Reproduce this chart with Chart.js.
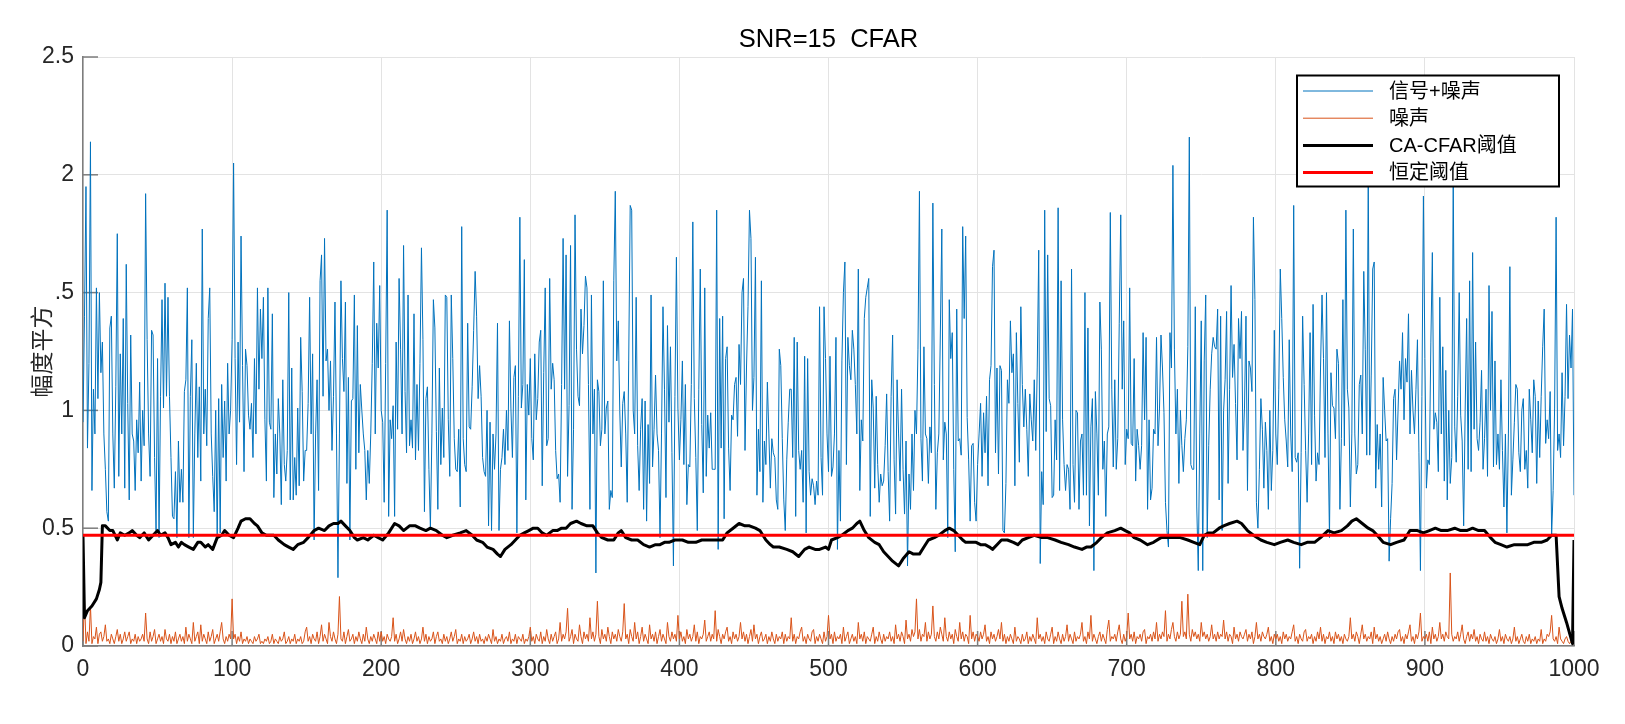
<!DOCTYPE html>
<html><head><meta charset="utf-8">
<script src="https://cdn.jsdelivr.net/npm/chart.js@4.4.1/dist/chart.umd.min.js"></script>
<style>html,body{margin:0;padding:0;background:#fff;}canvas{display:block;}</style>
</head><body>
<canvas id="c" width="1625" height="724"></canvas>
<script>
const titleText = 'SNR=15  CFAR';
const yLabel = '幅度平方';
const seriesNames = ['信号+噪声', '噪声', 'CA-CFAR阈值', '恒定阈值'];
const xTickValues = [0, 100, 200, 300, 400, 500, 600, 700, 800, 900, 1000];
const yTickValues = [0, 0.5, 1, 1.5, 2, 2.5];
const yTickLabels = ['0', '0.5', '1', '.5', '2', '2.5'];

// 信号+噪声, index 0..1000
const signal = [
0.95,1.4,1.95,0.84,1.2,2.14,0.66,1.09,0.9,1.52,
1.05,1.5,1.16,1.29,0.9,0.75,0.57,0.53,1.35,1.4,
0.9,0.67,1.1,1.75,0.72,1.24,0.9,1.39,0.67,1.62,
1.03,0.62,1.32,0.9,0.87,0.66,0.96,0.82,1.12,0.7,
1.0,0.85,1.92,1.3,0.9,0.72,1.34,1.32,0.8,0.49,
1.22,0.46,1.06,1.47,1.01,1.54,1.06,1.48,1.06,0.8,
0.55,0.54,0.74,0.46,0.87,0.61,0.75,0.61,1.08,1.13,
1.52,0.46,1.06,1.3,0.46,0.9,1.2,0.8,1.1,0.7,
1.77,0.9,1.09,0.85,1.39,1.52,0.9,0.72,0.57,1.0,
0.46,1.05,0.48,1.11,0.8,1.04,0.7,1.2,0.9,1.0,
1.3,2.05,1.22,0.77,1.29,0.95,1.74,1.19,0.74,1.26,
1.19,0.98,0.92,1.03,0.8,1.22,0.9,1.52,1.09,1.43,
1.22,
1.48,0.96,0.7,1.52,0.95,0.92,1.41,0.63,0.9,0.73,
1.05,0.9,0.6,1.13,0.77,0.7,0.83,1.5,0.62,1.18,
0.62,0.8,0.64,1.01,0.68,1.31,1.08,0.7,0.83,0.83,
1.03,1.48,0.9,1.24,0.45,0.9,1.13,0.66,1.55,1.66,
1.06,1.73,1.21,1.26,1.0,1.21,0.83,1.06,1.46,0.9,
0.29,0.9,1.55,1.22,1.08,1.46,0.69,1.14,0.45,1.04,
1.05,1.49,0.75,1.36,0.82,1.11,1.0,0.9,0.83,0.62,
0.83,0.69,0.9,1.2,1.63,0.9,1.37,1.18,1.53,1.0,
0.95,0.61,1.2,1.85,0.55,0.96,0.88,1.02,0.55,1.29,
0.92,1.56,1.26,0.9,1.7,1.08,0.82,1.49,0.85,0.96,
0.84,1.41,0.79,1.11,0.83,1.2,1.69,1.3,0.57,1.05,
1.1,0.75,0.5,0.9,1.47,1.35,0.91,0.58,1.18,0.77,
1.01,0.8,1.49,1.48,0.96,
0.72,1.49,1.22,0.88,0.75,0.74,0.92,0.59,1.78,0.88,
0.77,0.74,1.37,0.93,0.92,1.1,1.34,1.59,1.4,1.05,
1.19,1.06,0.8,0.74,0.72,1.0,0.51,0.95,0.49,0.9,
0.75,0.9,1.37,0.49,0.75,0.8,0.92,0.77,1.0,0.83,
1.38,1.01,0.8,1.14,1.19,0.48,1.06,1.82,1.01,1.11,
1.64,0.62,1.11,0.98,1.22,0.88,0.79,1.24,0.96,1.05,
1.29,1.34,0.68,1.16,1.52,0.85,0.88,1.56,1.09,1.2,
1.13,0.83,0.71,0.73,0.61,1.11,1.73,1.09,1.66,0.72,
1.02,1.7,0.58,0.92,1.83,1.26,1.06,1.02,1.43,1.24,
1.36,1.57,1.52,1.11,0.58,1.49,0.9,1.09,0.31,1.13,
1.08,0.85,0.92,1.55,0.9,1.01,1.04,0.58,0.66,0.63,
1.55,1.93,1.21,1.38,1.0,0.76,1.03,1.08,0.9,0.61,
1.21,1.87,1.85,1.0,0.9,
1.48,0.85,0.66,0.92,1.05,0.58,1.04,0.53,0.94,0.69,
1.49,0.76,0.92,1.15,0.9,0.83,0.46,0.9,1.44,1.09,
0.63,1.36,0.95,1.27,0.82,0.34,1.06,1.65,1.01,0.79,
0.96,1.21,0.77,1.11,0.6,0.77,0.76,1.11,1.8,1.05,
0.8,0.49,1.09,1.6,0.94,0.65,1.52,0.72,0.98,0.84,
0.99,0.75,0.75,0.75,1.85,0.41,1.39,0.84,1.4,0.54,
1.22,1.27,0.84,0.66,0.98,0.96,1.11,1.14,0.89,1.28,
1.11,1.5,1.56,0.83,1.18,1.44,1.85,1.73,1.0,1.14,
1.65,0.64,0.92,0.74,1.55,0.61,0.87,0.77,1.12,0.9,
0.67,0.88,0.82,0.8,0.62,0.58,1.26,1.19,0.88,0.62,
0.49,0.79,0.95,1.09,1.09,0.8,1.31,0.55,1.29,0.83,
0.75,0.83,0.61,1.23,0.48,1.22,0.74,0.64,0.71,0.68,
0.6,0.7,0.64,1.44,0.8,
0.64,1.44,1.22,0.9,0.74,1.23,0.72,0.76,0.9,1.31,
0.41,0.83,0.53,1.21,1.5,1.63,0.77,1.31,1.19,1.13,
1.34,1.26,1.11,0.9,1.6,0.66,0.96,0.87,1.39,1.48,
1.52,1.56,0.55,1.13,1.01,0.67,1.06,0.77,0.61,0.73,
0.68,0.7,0.85,1.07,0.74,0.53,1.06,1.32,0.79,0.56,
1.13,0.9,0.7,1.09,0.75,0.56,0.87,0.34,0.73,0.58,
0.9,0.66,1.0,0.9,1.26,1.93,0.88,0.7,1.27,0.9,
0.88,0.69,0.93,0.82,1.88,1.11,0.58,0.82,0.9,1.32,
1.77,0.79,0.95,0.9,0.46,1.47,1.22,1.33,0.75,0.4,
1.43,0.87,0.88,0.81,1.78,1.39,1.74,0.97,0.79,0.53,
0.85,0.86,0.61,0.53,0.77,0.9,1.03,0.72,0.99,0.82,
1.06,0.68,1.13,1.19,1.61,1.68,0.82,1.18,0.73,1.19,
1.17,0.49,0.48,0.69,
1.13,1.03,1.38,1.16,1.24,0.68,1.33,1.03,0.78,1.44,
1.11,0.93,1.09,0.92,0.72,1.07,0.96,0.87,1.13,0.83,
1.18,1.68,0.35,0.74,0.6,1.85,0.91,1.66,1.05,1.02,
0.63,0.64,0.96,0.79,1.86,0.66,1.55,0.96,0.77,0.66,
0.77,0.75,0.58,1.6,0.77,0.61,1.0,0.99,0.58,0.87,
0.9,0.64,1.5,0.64,1.35,0.51,0.93,1.05,0.32,1.08,
0.9,0.64,1.46,1.26,0.75,0.87,0.55,0.9,0.93,1.84,
1.09,0.76,1.13,0.75,0.88,1.37,1.83,1.09,1.38,0.77,
0.92,0.88,1.52,0.86,0.85,1.22,0.7,0.92,0.85,0.75,
0.85,1.33,0.96,1.31,0.58,0.96,0.62,0.67,0.92,0.9,
1.31,0.85,1.01,1.32,1.18,0.99,0.61,0.49,0.42,1.33,
1.18,2.04,1.26,0.9,1.09,0.69,1.0,0.85,0.74,0.88,
0.96,1.27,2.16,0.77,0.75,
0.75,1.44,0.59,0.32,0.9,1.38,0.32,1.21,1.49,0.46,
0.85,1.09,1.24,1.31,1.27,1.26,1.43,0.62,1.4,0.49,
1.0,1.13,1.42,0.69,1.09,1.53,1.14,1.28,1.03,0.79,
1.39,1.22,1.42,0.83,1.01,1.4,0.66,1.21,1.18,1.08,
1.82,1.47,0.61,0.5,0.75,1.05,0.92,0.67,0.95,0.83,
0.58,1.0,0.66,0.83,1.34,0.9,0.77,1.09,1.6,1.39,
1.14,0.96,0.87,0.76,1.3,0.9,0.74,1.87,0.8,0.78,
0.82,0.33,0.82,1.4,1.11,0.83,0.61,0.9,1.33,0.77,
1.45,0.98,0.7,0.82,0.77,1.18,1.49,1.22,0.8,1.5,
0.9,0.46,1.16,1.02,1.01,0.88,1.26,1.2,0.58,0.88,
1.47,0.85,1.85,1.09,1.01,0.59,0.9,1.77,0.9,0.73,
0.77,1.11,1.15,0.9,1.59,1.26,0.81,2.0,0.81,1.15,
1.6,1.63,0.67,0.94,0.75,
0.9,0.59,1.14,1.0,0.87,0.88,0.36,0.54,0.69,1.05,
1.09,0.79,1.0,1.21,1.09,1.33,0.96,1.22,1.12,1.41,
0.9,1.17,1.0,0.9,1.09,1.3,0.82,0.32,1.06,1.91,
1.22,0.67,0.79,0.77,1.29,1.67,0.92,0.99,0.95,0.74,
1.48,0.9,1.27,0.7,1.17,0.62,1.0,0.69,0.8,2.0,
0.93,0.78,1.06,1.5,0.98,0.87,0.51,1.0,1.39,0.75,
1.55,0.74,1.67,0.92,1.29,0.88,0.83,0.95,1.17,0.75,
0.88,1.09,0.72,1.53,1.0,1.42,0.76,1.21,0.77,0.9,
0.75,1.13,0.83,0.59,0.9,0.48,0.9,1.61,0.64,0.79,
0.95,1.11,1.09,0.82,0.74,1.0,1.05,0.75,0.83,0.67,
1.09,0.96,0.82,1.13,1.06,0.69,1.04,0.8,1.06,1.27,
1.43,0.86,0.96,0.88,1.08,0.47,0.66,1.01,1.82,0.83,
0.9,0.8,1.16,0.85,1.06,1.45,1.05,1.32,1.18,1.43,
0.64
];

// 噪声, index 0..1000
const noise = [
.02,.2,.01,.06,.02,.17,.01,.04,.03,.08,.01,.05,.06,.02,.04,.09,.02,.03,.01,.05,
.03,.01,.04,.07,.02,.05,.01,.03,.06,.02,.04,.06,.01,.03,.02,.05,.01,.04,.02,.03,
.05,.02,.14,.03,.01,.06,.02,.04,.07,.01,.03,.05,.02,.04,.01,.07,.03,.02,.05,.01,
.04,.02,.06,.01,.03,.05,.02,.04,.01,.08,.02,.05,.03,.01,.1,.02,.04,.06,.01,.09,
.02,.05,.03,.01,.06,.02,.04,.07,.01,.03,.05,.02,.06,.1,.03,.01,.04,.02,.05,.03,
.2,.03,.05,.01,.04,.02,.06,.01,.03,.02,.04,.01,.03,.02,.01,.04,.02,.03,.05,.01,
.02,.01,.03,.02,.04,.01,.02,.05,.01,.03,.02,.01,.04,.02,.03,.06,.01,.02,.04,.01,
.03,.02,.05,.01,.03,.02,.04,.01,.02,.06,.08,.02,.04,.01,.05,.03,.02,.06,.01,.04,
.09,.02,.05,.03,.01,.1,.04,.02,.06,.03,.01,.05,.21,.03,.02,.06,.01,.04,.07,.02,
.03,.05,.01,.04,.02,.06,.03,.01,.05,.02,.08,.03,.01,.04,.02,.05,.03,.01,.06,.02,
.06,.02,.04,.01,.05,.03,.02,.04,.12,.02,.05,.01,.03,.06,.02,.07,.03,.01,.04,.02,
.05,.01,.03,.06,.02,.04,.01,.03,.08,.02,.05,.01,.04,.02,.03,.06,.01,.04,.06,.02,
.03,.01,.05,.02,.04,.01,.03,.06,.02,.04,.07,.01,.03,.02,.05,.01,.04,.02,.03,.05,
.01,.03,.06,.02,.04,.01,.05,.02,.03,.01,.04,.02,.05,.03,.01,.07,.02,.04,.01,.03,
.02,.05,.01,.03,.04,.02,.06,.01,.03,.02,.05,.01,.04,.03,.02,.05,.01,.03,.02,.04,
.08,.02,.04,.01,.05,.03,.02,.06,.01,.04,.02,.07,.03,.01,.05,.02,.04,.06,.01,.03,
.1,.02,.05,.03,.06,.16,.02,.04,.07,.01,.05,.03,.02,.09,.04,.01,.06,.03,.05,.02,
.12,.03,.06,.02,.05,.19,.04,.01,.07,.03,.05,.02,.08,.04,.01,.06,.03,.05,.02,.07,
.04,.02,.06,.18,.03,.05,.01,.07,.04,.02,.1,.03,.06,.01,.04,.08,.02,.05,.03,.01,
.09,.03,.05,.02,.06,.01,.04,.07,.02,.05,.03,.01,.1,.04,.02,.06,.03,.05,.02,.13,
.03,.06,.02,.04,.01,.07,.03,.05,.02,.04,.09,.02,.06,.01,.04,.03,.05,.11,.02,.04,
.06,.02,.05,.03,.15,.02,.07,.04,.01,.05,.03,.06,.08,.02,.04,.01,.06,.03,.05,.02,
.04,.1,.03,.06,.02,.05,.01,.04,.07,.02,.09,.03,.05,.01,.04,.06,.02,.03,.05,.01,
.04,.02,.06,.03,.01,.05,.02,.04,.03,.06,.01,.05,.02,.04,.03,.12,.02,.05,.01,.04,
.03,.06,.08,.02,.04,.01,.05,.03,.02,.06,.07,.01,.04,.02,.05,.03,.01,.06,.02,.04,
.13,.03,.05,.01,.06,.02,.04,.03,.05,.01,.08,.02,.04,.06,.01,.03,.05,.02,.04,.01,
.1,.03,.05,.02,.06,.01,.04,.03,.02,.05,.08,.01,.04,.02,.06,.03,.01,.05,.02,.04,
.03,.06,.02,.04,.01,.09,.03,.05,.02,.06,.04,.01,.11,.03,.05,.02,.07,.04,.06,.2,
.03,.07,.02,.05,.04,.1,.02,.06,.03,.05,.17,.04,.02,.06,.03,.08,.05,.02,.12,.04,
.02,.06,.03,.05,.01,.07,.04,.02,.1,.03,.06,.02,.05,.04,.01,.13,.03,.06,.02,.05,
.04,.02,.06,.03,.05,.09,.02,.04,.01,.06,.03,.05,.02,.04,.07,.03,.1,.02,.05,.01,
.04,.02,.05,.03,.01,.08,.02,.04,.03,.01,.05,.02,.03,.06,.01,.04,.02,.05,.03,.01,
.12,.03,.05,.02,.04,.01,.06,.03,.02,.05,.08,.01,.04,.02,.06,.03,.01,.05,.02,.04,
.09,.02,.05,.03,.01,.06,.02,.04,.03,.05,.1,.02,.04,.01,.06,.03,.13,.02,.05,.03,
.01,.04,.06,.02,.05,.03,.01,.07,.11,.02,.04,.03,.05,.02,.06,.09,.03,.01,.05,.02,
.04,.14,.03,.05,.02,.06,.01,.04,.03,.05,.02,.06,.07,.01,.04,.03,.05,.02,.06,.03,
.1,.02,.05,.03,.06,.04,.15,.02,.05,.03,.07,.1,.04,.02,.06,.03,.05,.19,.04,.06,
.03,.22,.05,.02,.07,.04,.06,.03,.05,.02,.1,.04,.06,.03,.05,.02,.04,.09,.03,.05,
.02,.06,.03,.05,.04,.11,.03,.06,.02,.05,.04,.01,.08,.03,.05,.02,.06,.04,.03,.05,
.07,.02,.05,.03,.06,.01,.04,.1,.03,.05,.02,.06,.04,.03,.05,.08,.02,.04,.01,.05,
.03,.05,.02,.04,.01,.06,.03,.05,.02,.04,.03,.06,.09,.02,.04,.01,.05,.03,.02,.06,
.07,.02,.04,.03,.05,.01,.04,.02,.06,.03,.08,.02,.05,.01,.04,.03,.06,.02,.04,.01,
.06,.03,.05,.02,.04,.01,.05,.03,.02,.04,.12,.03,.05,.02,.06,.04,.01,.05,.09,.03,
.05,.02,.04,.03,.06,.01,.08,.03,.05,.02,.04,.01,.03,.05,.02,.06,.03,.01,.04,.02,
.05,.03,.06,.07,.02,.04,.01,.05,.03,.06,.09,.02,.04,.01,.05,.03,.06,.14,.02,.04,
.03,.05,.02,.06,.01,.08,.03,.05,.02,.04,.1,.03,.05,.02,.06,.04,.03,.31,.05,.02,
.04,.03,.06,.02,.05,.09,.03,.01,.04,.06,.02,.05,.03,.07,.02,.04,.01,.05,.03,.02,
.06,.02,.04,.01,.05,.03,.02,.04,.01,.03,.07,.02,.04,.01,.05,.03,.02,.04,.01,.03,
.08,.02,.04,.01,.03,.05,.02,.01,.04,.02,.05,.01,.03,.02,.04,.01,.03,.02,.07,.01,
.03,.02,.05,.04,.06,.13,.03,.02,.04,.01,.08,.03,.02,.01,.03,.04,.02,.01,.02,.01,
.01
];

// CA-CFAR阈值: sample index and value
const cfarIdx = [
0,1,3,6,9,11,12,13,15,18,20,23,25,28,31,33,36,38,41,44,47,50,52,55,57,59,62,64,66,68,71,74,77,79,82,84,87,90,93,95,98,101,104,106,109,112,115,117,120,123,
128,131,135,138,141,144,148,151,155,158,162,165,168,171,173,176,179,182,184,188,191,195,198,201,205,209,212,215,219,223,226,230,233,237,241,244,248,
253,257,261,264,268,271,275,278,280,283,287,290,293,296,299,302,305,308,311,315,318,321,324,327,331,334,338,342,345,348,352,356,359,361,364,368,
372,376,380,384,387,390,393,397,402,406,411,415,420,425,429,432,436,440,444,447,451,454,458,461,463,467,472,476,480,484,487,491,494,498,
500,502,506,509,513,516,519,521,524,527,531,534,537,540,543,547,550,554,557,561,564,567,571,574,578,581,584,587,590,592,596,599,602,605,608,610,613,616,620,
624,627,630,634,638,643,647,652,656,661,665,670,673,676,680,683,687,692,696,699,702,705,709,714,718,723,728,732,736,741,745,749,
752,755,758,762,765,769,774,777,781,785,790,794,799,803,808,812,817,821,826,830,835,839,844,848,851,854,858,862,865,868,872,
877,881,886,890,895,899,903,907,911,915,920,924,928,932,936,940,944,947,951,955,960,964,969,973,978,982,985,988,990,992,995,999,1000
];
const cfarVal = [
0.47,0.12,0.15,0.17,0.2,0.24,0.27,0.51,0.51,0.49,0.49,0.45,0.48,0.47,0.48,0.49,0.47,0.46,0.48,0.45,0.47,0.49,0.47,0.48,0.46,0.43,0.44,0.42,0.44,0.43,0.42,0.41,0.44,0.44,0.42,0.43,0.41,0.46,0.47,0.49,0.47,0.46,0.5,0.53,0.54,0.54,0.52,0.51,0.48,0.47,
0.47,0.45,0.43,0.42,0.41,0.43,0.44,0.46,0.49,0.5,0.49,0.51,0.52,0.52,0.53,0.51,0.49,0.46,0.45,0.46,0.45,0.47,0.46,0.45,0.48,0.52,0.51,0.49,0.51,0.51,0.5,0.49,0.5,0.49,0.47,0.46,0.47,
0.48,0.49,0.47,0.45,0.44,0.42,0.41,0.39,0.38,0.41,0.43,0.45,0.47,0.48,0.49,0.5,0.5,0.48,0.47,0.49,0.49,0.5,0.5,0.52,0.53,0.52,0.51,0.51,0.48,0.46,0.45,0.45,0.48,0.49,0.46,0.45,
0.45,0.43,0.42,0.43,0.43,0.44,0.44,0.45,0.45,0.44,0.44,0.45,0.45,0.45,0.45,0.48,0.5,0.52,0.51,0.51,0.5,0.49,0.45,0.43,0.42,0.42,0.41,0.4,0.38,0.41,0.42,0.41,0.41,0.42,
0.41,0.45,0.46,0.47,0.49,0.5,0.52,0.53,0.49,0.46,0.44,0.43,0.4,0.38,0.36,0.34,0.37,0.4,0.39,0.39,0.42,0.45,0.46,0.47,0.49,0.5,0.49,0.47,0.45,0.44,0.44,0.44,0.43,0.43,0.42,0.41,0.43,0.45,0.45,
0.44,0.43,0.45,0.46,0.47,0.46,0.46,0.45,0.44,0.43,0.42,0.41,0.42,0.42,0.44,0.46,0.48,0.49,0.5,0.49,0.48,0.46,0.45,0.43,0.44,0.46,0.46,0.46,0.46,0.45,0.44,0.43,
0.47,0.48,0.48,0.5,0.51,0.52,0.53,0.52,0.49,0.47,0.45,0.44,0.43,0.44,0.45,0.44,0.43,0.44,0.44,0.46,0.49,0.48,0.49,0.51,0.53,0.54,0.52,0.5,0.49,0.47,0.44,
0.43,0.44,0.45,0.49,0.49,0.48,0.49,0.5,0.49,0.49,0.5,0.49,0.49,0.5,0.49,0.49,0.46,0.44,0.43,0.42,0.43,0.43,0.43,0.44,0.44,0.45,0.47,0.47,0.21,0.16,0.1,0.01,0.45
];

// 恒定阈值
const constIdx = [0, 1000];
const constVal = [0.47, 0.47];

const toSeries = (vals) => vals.map((v, i) => ({ x: i, y: v }));
const pairSeries = (xs, ys) => xs.map((x, i) => ({ x: x, y: ys[i] }));

const LATIN = "'Liberation Sans', Arial, sans-serif";
const CJK = "'Liberation Sans', 'Noto Sans CJK SC', sans-serif";

const innerTicks = {
  id: 'innerTicks',
  beforeDatasetsDraw(chart) {
    const { ctx, chartArea: a, scales } = chart;
    ctx.save();
    ctx.strokeStyle = '#7d7d7d';
    ctx.lineWidth = 1.5;
    yTickValues.forEach(v => {
      const py = scales.y.getPixelForValue(v);
      ctx.beginPath(); ctx.moveTo(a.left, py); ctx.lineTo(a.left + 15, py); ctx.stroke();
    });
    xTickValues.forEach(v => {
      const px = scales.x.getPixelForValue(v);
      ctx.beginPath(); ctx.moveTo(px, a.bottom); ctx.lineTo(px, a.bottom - 15); ctx.stroke();
    });
    ctx.restore();
  }
};

const boxLegend = {
  id: 'boxLegend',
  afterDraw(chart) {
    const ctx = chart.ctx;
    const x0 = 1297, y0 = 75.5, w = 262, h = 111;
    ctx.save();
    ctx.fillStyle = '#ffffff';
    ctx.fillRect(x0, y0, w, h);
    ctx.strokeStyle = '#000000';
    ctx.lineWidth = 2;
    ctx.strokeRect(x0, y0, w, h);
    ctx.font = "20px " + CJK;
    ctx.textBaseline = 'middle';
    ctx.textAlign = 'left';
    chart.data.datasets.forEach((ds, i) => {
      const y = 91 + i * 27.2;
      ctx.strokeStyle = ds.borderColor;
      ctx.lineWidth = ds.borderWidth;
      ctx.beginPath(); ctx.moveTo(1303, y); ctx.lineTo(1373, y); ctx.stroke();
      ctx.fillStyle = '#000000';
      ctx.fillText(ds.label, 1389, y + 1);
    });
    ctx.restore();
  }
};

new Chart(document.getElementById('c').getContext('2d'), {
  type: 'line',
  data: {
    datasets: [
      { label: seriesNames[0], data: toSeries(signal), borderColor: '#0072BD', borderWidth: 1, order: 4 },
      { label: seriesNames[1], data: toSeries(noise), borderColor: '#D95319', borderWidth: 1, order: 3 },
      { label: seriesNames[2], data: pairSeries(cfarIdx, cfarVal), borderColor: '#000000', borderWidth: 3, order: 2 },
      { label: seriesNames[3], data: pairSeries(constIdx, constVal), borderColor: '#FF0000', borderWidth: 3, order: 1 }
    ]
  },
  options: {
    responsive: false,
    animation: false,
    devicePixelRatio: 1,
    elements: { point: { radius: 0, hoverRadius: 0 }, line: { tension: 0, borderJoinStyle: 'round', fill: false } },
    layout: { padding: { left: 0, right: 51, top: 0, bottom: 0 } },
    plugins: {
      legend: { display: false },
      tooltip: { enabled: false },
      title: {
        display: true, fullSize: false, text: titleText, color: '#000000',
        font: { family: LATIN, size: 25.5, weight: 'normal' },
        padding: { top: 25, bottom: 1.4 }
      }
    },
    scales: {
      x: {
        type: 'linear', min: 0, max: 1000,
        afterBuildTicks: s => { s.ticks = xTickValues.map(v => ({ value: v })); },
        afterFit: s => { s.height = 78; },
        ticks: { color: '#262626', font: { family: LATIN, size: 23 }, padding: 10, maxRotation: 0, autoSkip: false, callback: v => String(v) },
        grid: { color: '#e3e3e3', lineWidth: 1, drawTicks: false },
        border: { display: true, color: '#7d7d7d', width: 1.5 }
      },
      y: {
        type: 'linear', min: 0, max: 2.5,
        afterBuildTicks: s => { s.ticks = yTickValues.map(v => ({ value: v })); },
        afterFit: s => { s.width = 83; },
        ticks: { color: '#262626', font: { family: LATIN, size: 23 }, padding: 9, autoSkip: false,
                 callback: (v, i) => yTickLabels[i] },
        grid: { color: '#e3e3e3', lineWidth: 1, drawTicks: false },
        border: { display: true, color: '#7d7d7d', width: 1.5 },
        title: { display: true, text: yLabel, color: '#262626',
                 font: { family: "'Noto Sans CJK SC', sans-serif", size: 23, weight: 'normal' },
                 padding: { top: 27, bottom: 0 } }
      }
    }
  },
  plugins: [innerTicks, boxLegend]
});
</script>
</body></html>
